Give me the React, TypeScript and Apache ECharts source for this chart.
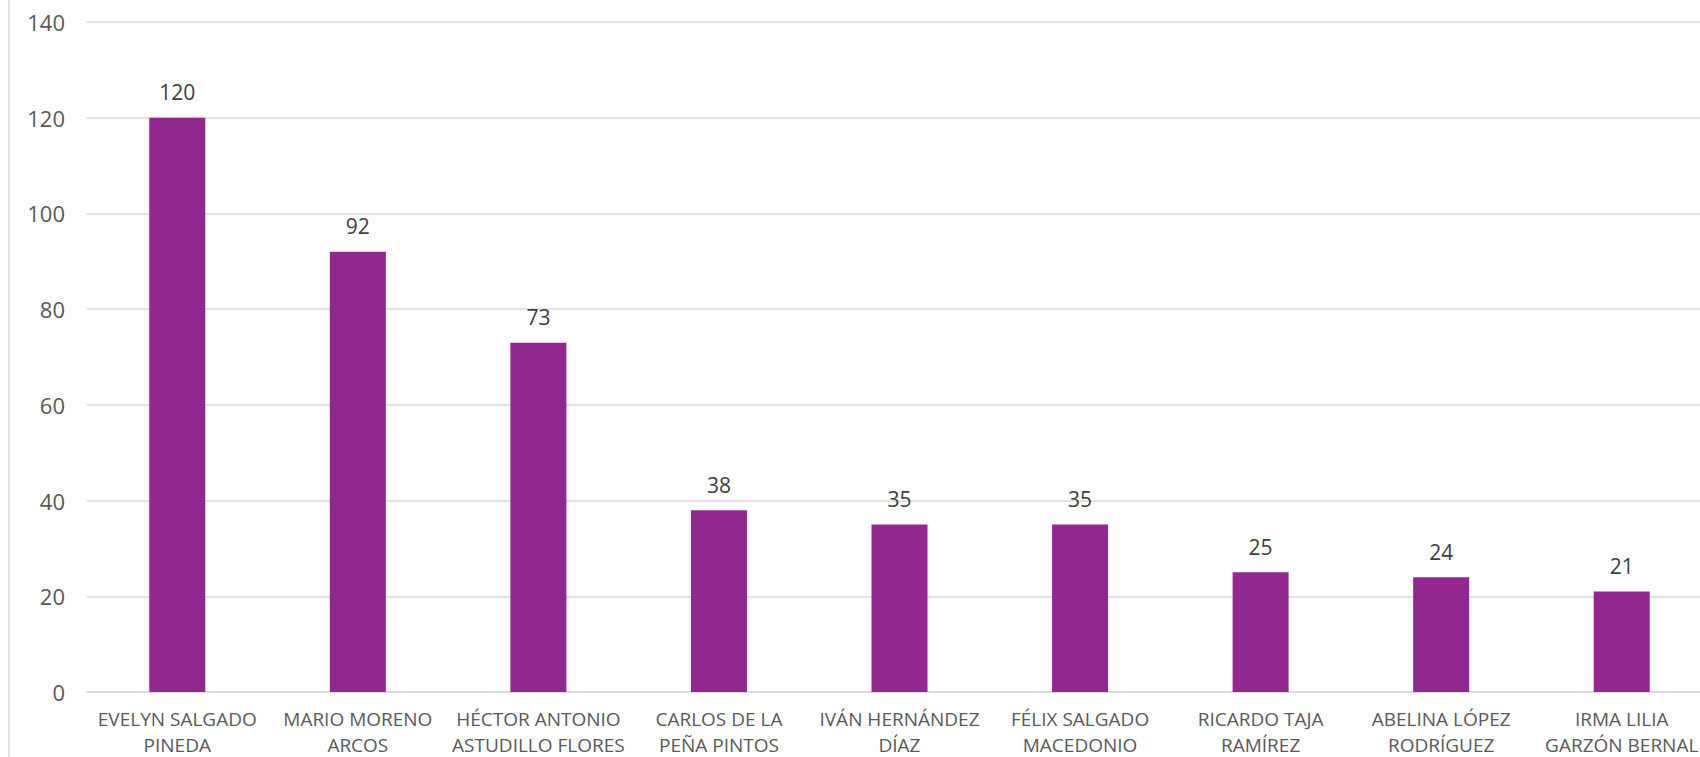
import React, { useEffect, useRef } from "react";
import * as echarts from "echarts";

const categories = [
  "EVELYN SALGADO\nPINEDA",
  "MARIO MORENO\nARCOS",
  "HÉCTOR ANTONIO\nASTUDILLO FLORES",
  "CARLOS DE LA\nPEÑA PINTOS",
  "IVÁN HERNÁNDEZ\nDÍAZ",
  "FÉLIX SALGADO\nMACEDONIO",
  "RICARDO TAJA\nRAMÍREZ",
  "ABELINA LÓPEZ\nRODRÍGUEZ",
  "IRMA LILIA\nGARZÓN BERNAL",
];
const values = [120, 92, 73, 38, 35, 35, 25, 24, 21];
const yMin = 0;
const yMax = 140;
const yInterval = 20;

export default function App() {
  const ref = useRef<HTMLDivElement>(null);
  useEffect(() => {
    if (!ref.current) return;
    const chart = echarts.init(ref.current, undefined, { renderer: "svg" });
    chart.setOption({
      animation: false,
      backgroundColor: "#ffffff",
      textStyle: { fontFamily: "Open Sans" },
      grid: {
        left: 87,
        top: 22,
        width: 1625,
        height: 670,
        outerBoundsMode: "none",
        containLabel: false,
      },
      xAxis: {
        type: "category",
        data: categories,
        axisLine: { lineStyle: { color: "#d9d9d9", width: 1.5 } },
        axisTick: { show: false },
        axisLabel: {
          interval: 0,
          color: "#595959",
          fontSize: 19,
          lineHeight: 26,
          margin: 14,
          fontFamily: "Open Sans",
        },
      },
      yAxis: {
        type: "value",
        min: yMin,
        max: yMax,
        interval: yInterval,
        axisLine: { show: false },
        axisTick: { show: false },
        splitLine: { lineStyle: { color: "#d9d9d9", width: 1.5 } },
        axisLabel: {
          color: "#595959",
          fontSize: 22,
          margin: 22,
          fontFamily: "Open Sans",
        },
      },
      graphic: [
        {
          type: "line",
          shape: { x1: 9, y1: 0, x2: 9, y2: 757 },
          style: { stroke: "#d9d9d9", lineWidth: 1.5 },
        },
      ],
      series: [
        {
          type: "bar",
          data: values,
          barWidth: 56,
          itemStyle: { color: "#92278F" },
          label: {
            show: true,
            position: "top",
            distance: 15,
            color: "#404040",
            fontSize: 21,
            fontFamily: "Open Sans",
          },
        },
      ],
    });
    return () => chart.dispose();
  }, []);
  return (
    <div
      ref={ref}
      style={{ position: "fixed", left: 0, top: 0, width: 1700, height: 757 }}
    />
  );
}
